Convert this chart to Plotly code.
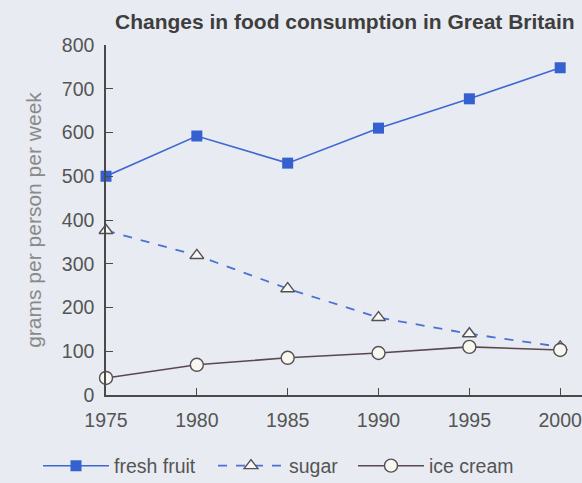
import plotly.graph_objects as go

years = [1975, 1980, 1985, 1990, 1995, 2000]
fresh_fruit = [500, 592, 530, 610, 677, 748]
sugar = [376, 319, 243, 177, 140, 110]
ice_cream = [39, 69, 85, 96, 110, 103]

y_ticks = [0, 100, 200, 300, 400, 500, 600, 700, 800]

bg = "#e8ebf1"
axis_col = "#4a4a4a"
text_col = "#555555"

W, H = 582, 483

fig = go.Figure()

# fresh fruit - solid blue, filled squares
fig.add_trace(go.Scatter(
    x=years, y=fresh_fruit, name="fresh fruit", mode="lines+markers",
    line=dict(color="#3f68d2", width=1.6),
    marker=dict(symbol="square", size=11, color="#3560d0"),
    cliponaxis=False, legend="legend",
))

# sugar - dashed blue, open triangles
fig.add_trace(go.Scatter(
    x=years, y=sugar, name="sugar", mode="lines+markers",
    line=dict(color="#4a72d4", width=1.8, dash="dash"),
    marker=dict(symbol="triangle-up", size=12, color="#f7f7f4",
                line=dict(color="#555055", width=1.4)),
    cliponaxis=False, legend="legend2",
))

# ice cream - dark brown-grey, open circles
fig.add_trace(go.Scatter(
    x=years, y=ice_cream, name="ice cream", mode="lines+markers",
    line=dict(color="#5a4850", width=1.6),
    marker=dict(symbol="circle", size=13, color="#f8f7f0",
                line=dict(color="#555055", width=1.4)),
    cliponaxis=False, legend="legend3",
))


def legend_at(x_px):
    return dict(
        orientation="h", xref="container", yref="container",
        x=x_px / W, xanchor="left", y=1 - 466 / H, yanchor="middle",
        font=dict(size=19.5, color=text_col), bgcolor="rgba(0,0,0,0)",
        itemwidth=66,
    )


fig.update_layout(
    width=W, height=H,
    paper_bgcolor=bg, plot_bgcolor=bg,
    font=dict(family="Liberation Sans, Arial, sans-serif", color=text_col, size=19.5),
    margin=dict(l=106, r=0, t=45, b=88),
    title=dict(
        text="<b>Changes in food consumption in Great Britain</b>",
        x=115 / W, xanchor="left", y=1 - 22 / H, yanchor="middle",
        font=dict(size=21, color="#3e3e3e"),
    ),
    showlegend=True,
    legend=legend_at(38),
    legend2=legend_at(213),
    legend3=legend_at(353),
)

fig.update_xaxes(
    range=[1975, 2001.2], tickvals=years, ticktext=[str(y) for y in years],
    showgrid=False, zeroline=False, showline=True, linecolor=axis_col, linewidth=1.5,
    ticks="inside", ticklen=7, tickcolor=axis_col, tickwidth=1.2,
    tickfont=dict(size=19.5, color=text_col), ticklabelstandoff=7,
    ticklabeloverflow="allow",
)
fig.update_yaxes(
    range=[0, 800], tickvals=y_ticks,
    showgrid=False, zeroline=False, showline=True, linecolor=axis_col, linewidth=1.5,
    ticks="inside", ticklen=7, tickcolor=axis_col, tickwidth=1.2,
    tickfont=dict(size=19.5, color=text_col), ticklabelstandoff=6,
    title=dict(text="grams per person per week", font=dict(size=21, color="#8a8a8a"), standoff=14),
)

# drop the page's default body margin so the figure fills the window
fig.write_html(
    "out.html",
    config={"displayModeBar": False},
    post_script="document.body.style.margin='0';document.body.style.overflow='hidden';",
)
